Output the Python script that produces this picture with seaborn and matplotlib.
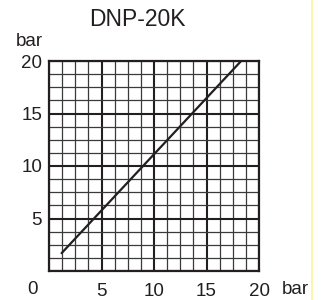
import matplotlib
matplotlib.use("Agg")
import matplotlib.pyplot as plt
import seaborn as sns
import numpy as np
import pandas as pd
from matplotlib.lines import Line2D

title = "DNP-20K"
unit = "bar"
major_ticks = [0, 5, 10, 15, 20]
tick_labels = ["", "5", "10", "15", "20"]
minor_step = 1.25
line_x = [1.2, 18.3]
line_y = [1.7, 20.0]

sns.set_style("white")
plt.rcParams["font.family"] = ["Liberation Sans", "DejaVu Sans"]

W, H = 324, 300
fig = plt.figure(figsize=(W / 100, H / 100), dpi=100)
ax = fig.add_axes([49 / W, 1 - 271 / H, 210 / W, 210 / H])

df = pd.DataFrame({"x": line_x, "y": line_y})
sns.lineplot(data=df, x="x", y="y", ax=ax, color="#231f20", linewidth=1.6, zorder=5)

ax.set_xlim(0, 20)
ax.set_ylim(0, 20)
minor = np.arange(0, 20 + 1e-9, minor_step)
ax.set_xticks(major_ticks)
ax.set_yticks(major_ticks)
ax.set_xticks(minor, minor=True)
ax.set_yticks(minor, minor=True)
ax.set_xticklabels(tick_labels, fontsize=13.5, color="#231f20")
ax.set_yticklabels(tick_labels, fontsize=13.5, color="#231f20")
ax.tick_params(axis="both", which="both", length=0)
ax.tick_params(axis="x", pad=9)
ax.tick_params(axis="y", pad=5)
ax.grid(which="minor", color="#3a3a3a", linewidth=0.9)
ax.grid(which="major", color="#231f20", linewidth=1.5)
ax.set_axisbelow(True)
for s in ax.spines.values():
    s.set_visible(True)
    s.set_color("#231f20")
    s.set_linewidth(1.6)
ax.set_xlabel("")
ax.set_ylabel("")

fig.text(137 / W, 1 - 20 / H, title, ha="center", va="center", fontsize=16.5, color="#231f20")
fig.text(29 / W, 1 - 41 / H, unit, ha="center", va="center", fontsize=13.5, color="#231f20")
fig.text(295 / W, 1 - 289.5 / H, unit, ha="center", va="center", fontsize=13.5, color="#231f20")
fig.text(32 / W, 1 - 289.5 / H, "0", ha="center", va="center", fontsize=13.5, color="#231f20")

fig.add_artist(Line2D([312 / W, 312 / W], [0, 1], transform=fig.transFigure,
                      color="#fff59d", linewidth=1.2))

fig.savefig("out.png", dpi=100)
